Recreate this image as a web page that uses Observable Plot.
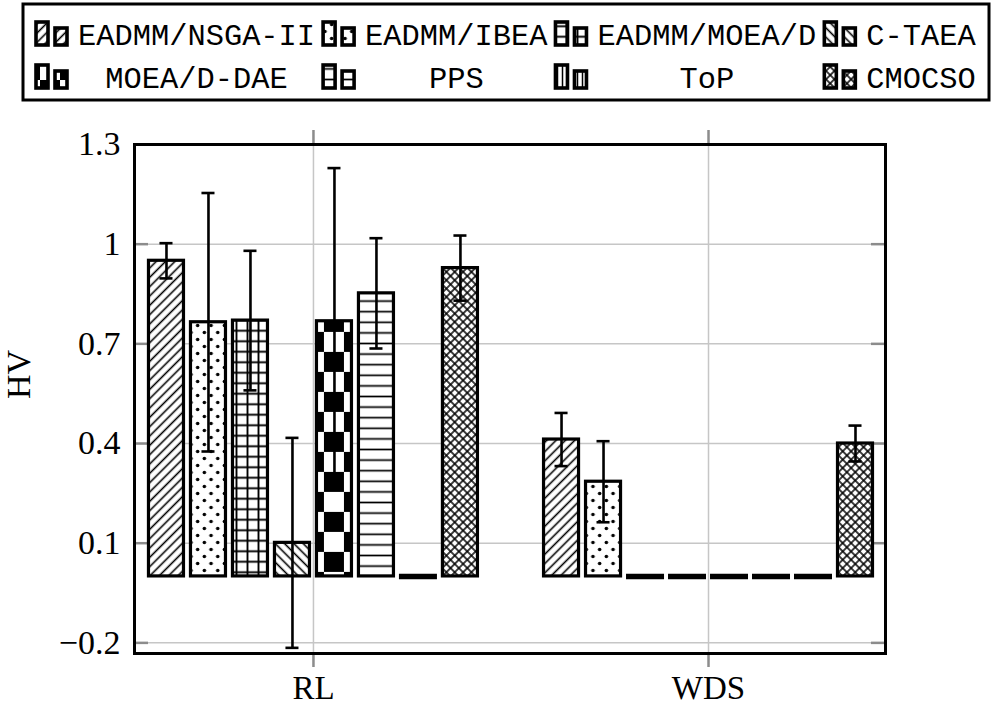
<!DOCTYPE html>
<html><head><meta charset="utf-8">
<script src="https://cdn.jsdelivr.net/npm/d3@7"></script>
<script src="https://cdn.jsdelivr.net/npm/@observablehq/plot@0.6"></script>
<style>
html,body{margin:0;padding:0;background:#fff;}
svg{display:block;}
</style></head><body>
<div id="legend"></div><div id="chart"></div>
<script>
// ---- data ----
const groups = ["RL", "WDS"];
const methods = ["EADMM/NSGA-II", "EADMM/IBEA", "EADMM/MOEA/D", "C-TAEA", "MOEA/D-DAE", "PPS", "ToP", "CMOCSO"];
const meanRL  = [0.950, 0.765, 0.770, 0.101, 0.768, 0.852, 0, 0.928];
const stdRL   = [0.053, 0.389, 0.210, 0.316, 0.461, 0.166, 0, 0.098];
const meanWDS = [0.412, 0.285, 0, 0, 0, 0, 0, 0.400];
const stdWDS  = [0.080, 0.122, 0, 0, 0, 0, 0, 0.054];
const yTicks = [-0.2, 0.1, 0.4, 0.7, 1, 1.3];
const xTicks = [0, 1];

// ---- build ----
const means = [meanRL, meanWDS], stds = [stdRL, stdWDS];
const STEP = 0.1063, BW = 0.0886, CAP = 0.0165;
const bars = groups.flatMap((g, gi) => methods.map((m, i) => ({
  gi, i, m, mean: means[gi][i], std: stds[gi][i], cx: gi + (i - 3.5) * STEP
})));
const errs = bars.filter(d => d.std > 0);
const caps = errs.flatMap(d => [{cx: d.cx, v: d.mean - d.std}, {cx: d.cx, v: d.mean + d.std}]);

function addPatterns(sel, pre, chk) {
  const defs = sel.insert("defs", ":first-child");
  const pat = (id, w, h, tr, x = 0, y = 0) => {
    const p = defs.append("pattern").attr("id", pre + id).attr("patternUnits", "userSpaceOnUse")
      .attr("width", w).attr("height", h).attr("x", x).attr("y", y);
    if (tr) p.attr("patternTransform", tr);
    p.append("rect").attr("width", w).attr("height", h).attr("fill", "white");
    return p;
  };
  const line = (p, x1, y1, x2, y2, sw) => p.append("line").attr("x1", x1).attr("y1", y1).attr("x2", x2).attr("y2", y2)
    .attr("stroke", "black").attr("stroke-width", sw);
  let p;
  p = pat("p0", 6.6, 6.6, "rotate(45)"); line(p, 3.3, -1, 3.3, 8, 1.6);
  p = pat("p1", 13.4, 14);
  p.append("circle").attr("cx", 3.35).attr("cy", 3.5).attr("r", 1.8).attr("fill", "black");
  p.append("circle").attr("cx", 10.05).attr("cy", 10.5).attr("r", 1.8).attr("fill", "black");
  p = pat("p2", 11, 10.5); line(p, 5.5, -1, 5.5, 12, 1.9); line(p, -1, 5.25, 12, 5.25, 1.9);
  p = pat("p3", 6.6, 6.6, "rotate(-45)"); line(p, 3.3, -1, 3.3, 8, 1.6);
  p = pat("p4", 40, 40, null, chk[0], chk[1]);
  p.append("rect").attr("width", 20).attr("height", 20).attr("fill", "black");
  p.append("rect").attr("x", 20).attr("y", 20).attr("width", 20).attr("height", 20).attr("fill", "black");
  p = pat("p5", 10, 10.6); line(p, -1, 5.3, 11, 5.3, 1.7);
  p = pat("p6", 5, 10); line(p, 2.5, -1, 2.5, 11, 1.5);
  p = pat("p7", 5.9, 5.9, "rotate(45)"); line(p, 2.95, -1, 2.95, 7, 1.5); line(p, -1, 2.95, 7, 2.95, 1.5);
}

// ---- legend ----
const leg = d3.select("#legend").append("svg").attr("width", 997).attr("height", 105);
addPatterns(leg, "l-", [0, 0]);
leg.append("rect").attr("x", 23).attr("y", 4).attr("width", 966).attr("height", 96)
  .attr("fill", "white").attr("stroke", "black").attr("stroke-width", 3);
const LF = "'Liberation Mono', 'DejaVu Sans Mono', monospace", LS = 30.4;
const tmp = leg.append("text").attr("font-family", LF).attr("font-size", LS);
const widths = methods.map(m => { tmp.text(m); return tmp.node().getComputedTextLength(); });
tmp.remove();
const baselines = [45, 88];
let s = 36;
for (let c = 0; c < 4; c++) {
  const w = Math.max(widths[c], widths[c + 4]);
  for (let r = 0; r < 2; r++) {
    const k = r * 4 + c, b = baselines[r];
    leg.append("rect").attr("x", s).attr("y", b - 23).attr("width", 12).attr("height", 23)
      .attr("fill", `url(#l-p${k})`).attr("stroke", "black").attr("stroke-width", 3.6);
    leg.append("rect").attr("x", s + 19).attr("y", b - 17).attr("width", 12).attr("height", 17)
      .attr("fill", `url(#l-p${k})`).attr("stroke", "black").attr("stroke-width", 3.6);
    leg.append("text").attr("x", s + 42 + w / 2).attr("y", b).attr("text-anchor", "middle")
      .attr("font-family", LF).attr("font-size", LS).attr("fill", "black").text(methods[k]);
  }
  s = s + 42 + w + 8;
}

// ---- chart ----
const FH = 603 - 39 - 55, FW = 997 - 134 - 112;
const plot = Plot.plot({
  width: 997, height: 603,
  marginLeft: 134, marginRight: 112, marginTop: 39, marginBottom: 55,
  x: {type: "linear", domain: [-0.453, 1.448], label: null},
  y: {domain: [-0.232, 1.3], label: null},
  color: {type: "identity"},
  style: {fontFamily: "'Liberation Serif', serif", fontSize: "34px", color: "black", background: "white"},
  marks: [
    Plot.gridY(yTicks, {stroke: "#c6c6c6", strokeOpacity: 1, strokeWidth: 1.5}),
    Plot.gridX(xTicks, {stroke: "#c6c6c6", strokeOpacity: 1, strokeWidth: 1.5}),
    Plot.ruleY(yTicks, {stroke: "#8c8c8c", strokeWidth: 2.5, insetRight: FW - 14}),
    Plot.ruleY(yTicks, {stroke: "#8c8c8c", strokeWidth: 2.5, insetLeft: FW - 14}),
    Plot.ruleX(xTicks, {stroke: "#8c8c8c", strokeWidth: 2.5, insetTop: FH, insetBottom: -14}),
    Plot.ruleX(xTicks, {stroke: "#8c8c8c", strokeWidth: 2.5, insetTop: -14, insetBottom: FH}),
    Plot.rect(bars.filter(d => d.mean > 0), {
      x1: d => d.cx - BW / 2, x2: d => d.cx + BW / 2, y1: 0, y2: "mean",
      fill: d => `url(#c-p${d.i})`, stroke: "black", strokeWidth: 3.2
    }),
    Plot.ruleY(bars.filter(d => d.mean === 0), {
      y: "mean", x1: d => d.cx - BW / 2, x2: d => d.cx + BW / 2,
      stroke: "black", strokeWidth: 5.5, insetLeft: -1.5, insetRight: -1.5
    }),
    Plot.ruleX(errs, {x: "cx", y1: d => d.mean - d.std, y2: d => d.mean + d.std, stroke: "black", strokeWidth: 2.6}),
    Plot.ruleY(caps, {y: "v", x1: d => d.cx - CAP, x2: d => d.cx + CAP, stroke: "black", strokeWidth: 2.6}),
    Plot.frame({stroke: "black", strokeWidth: 3}),
    Plot.axisY(yTicks, {tickSize: 0, tickPadding: 14, fontSize: 34, label: null, fill: "black",
      tickFormat: d => d < 0 ? "\u2212" + Math.abs(d) : String(d)}),
    Plot.axisX(xTicks, {tickSize: 0, tickPadding: 22, fontSize: 33, label: null, fill: "black", tickFormat: i => groups[i]}),
    Plot.text(["HV"], {frameAnchor: "left", text: d => d, rotate: -90, dx: -115, fontSize: 34, fill: "black"})
  ]
});
document.getElementById("chart").appendChild(plot);
const xs = plot.scale("x"), ys = plot.scale("y");
const dae = bars.find(d => d.gi === 0 && d.i === 4);
addPatterns(d3.select(plot), "c-", [xs.apply(dae.cx) - 10, ys.apply(0) - 224]);
</script>
</body></html>
